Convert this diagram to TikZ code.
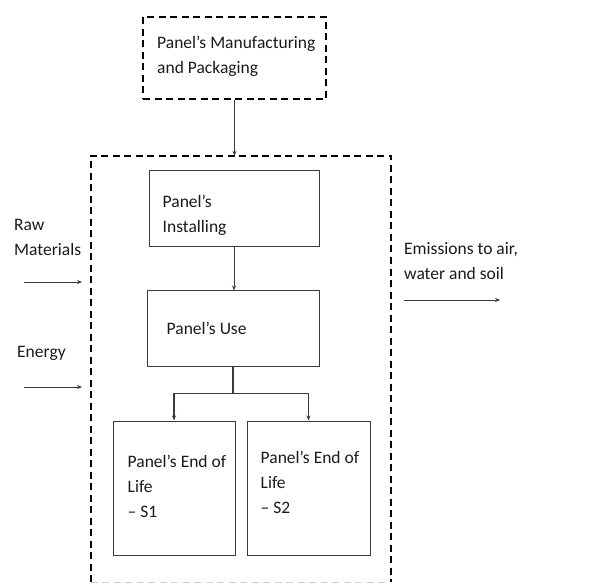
\documentclass[tikz,border=0pt]{standalone}
\usepackage{fontspec}
\setmainfont{Carlito}
\usetikzlibrary{arrows.meta,positioning}
\definecolor{linegray}{HTML}{3A3A3A}
\definecolor{txtgray}{HTML}{1A1A1A}

\begin{document}
\begin{tikzpicture}[x=1pt,y=-1pt,
  box/.style={rectangle,draw=linegray,line width=1pt,inner sep=0pt},
  dashbox/.style={rectangle,draw=black,line width=2pt,dash pattern=on 7pt off 4.5pt,inner sep=0pt},
  txt/.style={align=left,inner sep=0pt,text=txtgray,font=\fontsize{17.5}{25}\selectfont},
  flow/.style={draw=linegray,line width=0.9pt,-{Stealth[length=5pt,width=4pt]}}]
\useasboundingbox (0,0) rectangle (592,588);

% manufacturing box on top
\node[dashbox,minimum width=183,minimum height=82] (mfg) at (234.5,58) {};
\node[txt,right=15pt of mfg.west,yshift=2pt] (mfgTxt) {Panel’s Manufacturing\\and Packaging};

% system boundary
\node[minimum width=300,minimum height=426,inner sep=0pt] (sys) at (241,369) {};
\draw[line width=2pt,dash pattern=on 7pt off 4.5pt] (sys.south west) -- (sys.north west) -- (sys.north east) -- (sys.south east);
\draw[gray!35,line width=1.2pt,dash pattern=on 7pt off 4.5pt] (sys.south west) -- (sys.south east);

% processes
\node[box,minimum width=170,minimum height=76] (inst) at (234,209) {};
\node[txt,right=14pt of inst.west,yshift=-6pt] (instTxt) {Panel’s\\Installing};

\node[box,minimum width=172,minimum height=75] (use) at (233,328.5) {};
\node[txt,right=20pt of use.west] (useTxt) {Panel’s Use};

\node[box,minimum width=122,minimum height=134] (eol1) at (174,488) {};
\node[txt,right=15pt of eol1.west,yshift=2pt] (eol1Txt) {Panel’s End of\\Life\\– S1};

\node[box,minimum width=123,minimum height=134] (eol2) at (308.5,488) {};
\node[txt,right=14pt of eol2.west,yshift=6pt] (eol2Txt) {Panel’s End of\\Life\\– S2};

% inputs and outputs
\node[txt,anchor=west] (raw) at (14,237) {Raw\\Materials};
\node[txt,anchor=west] (energy) at (17,353) {Energy};
\node[txt,anchor=west] (emis) at (404,261.5) {Emissions to air,\\water and soil};

\coordinate (rawA) at (24,282);
\coordinate (rawB) at (82,282);
\coordinate (enA) at (24,387);
\coordinate (enB) at (82,387);
\coordinate (emA) at (404,300);
\coordinate (emB) at (500,300);

\draw[flow] (rawA) -- (rawB);
\draw[flow] (enA) -- (enB);
\draw[flow] (emA) -- (emB);

% flows between stages
\draw[flow] (mfg.south) -- (mfg.south |- sys.north);
\draw[flow] (inst.south) -- (inst.south |- use.north);
\draw[linegray,line width=2pt] (use.south) -- ++(0,27) coordinate (split);
\draw[flow,line width=1.3pt] (split) -| (eol1.north);
\draw[flow,line width=1.3pt] (split) -| (eol2.north);

\end{tikzpicture}
\end{document}
